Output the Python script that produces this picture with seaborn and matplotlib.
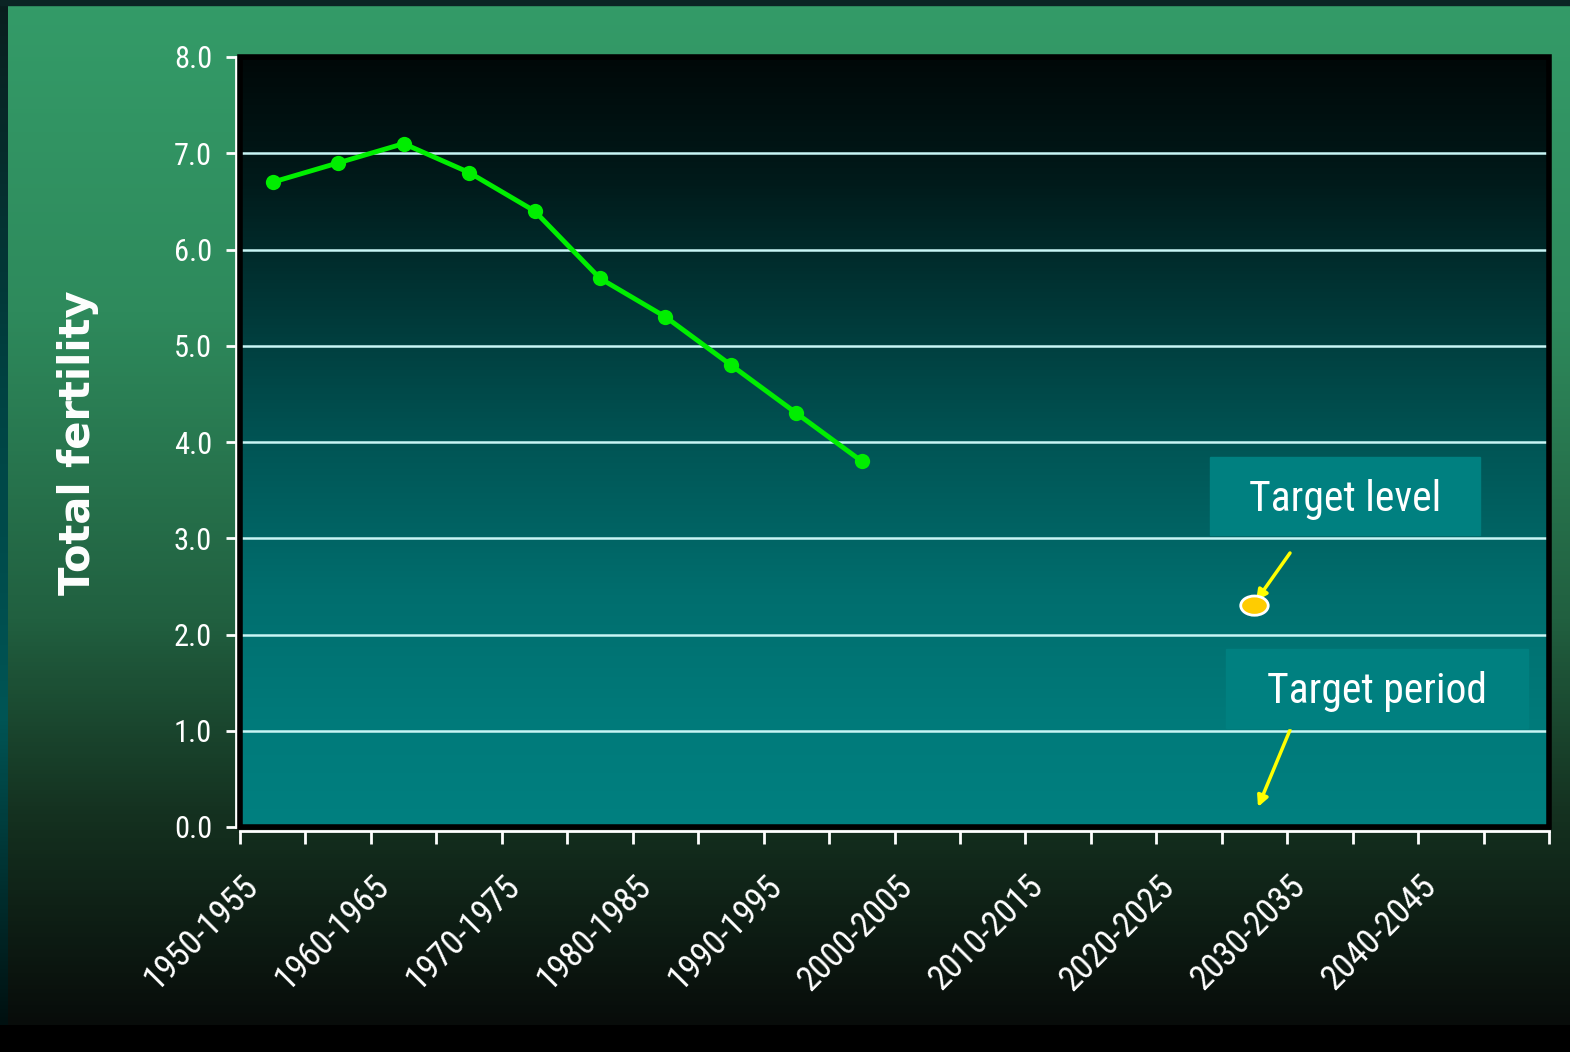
import numpy as np
import pandas as pd
import seaborn as sns
import matplotlib.pyplot as plt
from matplotlib import font_manager
from matplotlib.colors import LinearSegmentedColormap
from matplotlib.patches import Rectangle, Ellipse
from matplotlib.transforms import ScaledTranslation

# data
periods = ["1950-1955", "1955-1960", "1960-1965", "1965-1970", "1970-1975",
           "1975-1980", "1980-1985", "1985-1990", "1990-1995", "1995-2000",
           "2000-2005", "2005-2010", "2010-2015", "2015-2020", "2020-2025",
           "2025-2030", "2030-2035", "2035-2040", "2040-2045", "2045-2050"]
fertility = [6.7, 6.9, 7.1, 6.8, 6.4, 5.7, 5.3, 4.8, 4.3, 3.8]
target_period = "2025-2030"
target_level = 2.3
y_ticks = [0, 1, 2, 3, 4, 5, 6, 7, 8]

df = pd.DataFrame({"period": periods[:len(fertility)], "fertility": fertility})
df["pos"] = [periods.index(p) for p in df["period"]]

# pick a narrow font if one is installed
installed = {f.name for f in font_manager.fontManager.ttflist}
narrow_font = dict(family="DejaVu Sans", stretch="condensed")
for name in ["Liberation Sans Narrow", "Roboto Condensed", "Open Sans Condensed"]:
    if name in installed:
        narrow_font = dict(family=name)
        break

W, H = 1570, 1052
fig = plt.figure(figsize=(W / 100, H / 100), dpi=100, facecolor="black")

# figure background
bg = fig.add_axes([0, 0, 1, 1], zorder=-10)
bg.set_xlim(0, W)
bg.set_ylim(H, 0)
bg.axis("off")
grad = np.linspace(0, 1, 256).reshape(-1, 1)
panel_cmap = LinearSegmentedColormap.from_list(
    "panel", [(0, "#349b68"), (0.3, "#2e8a5c"), (0.6, "#216040"),
              (0.8, "#14301f"), (1, "#080c0a")])
bg.imshow(grad, cmap=panel_cmap, extent=[8, W, 1025, 5], aspect="auto")
strip_cmap = LinearSegmentedColormap.from_list(
    "strip", [(0, "#0a1e1e"), (0.4, "#004444"), (0.7, "#005555"), (1, "#001010")])
bg.imshow(grad, cmap=strip_cmap, extent=[0, 8, 1025, 0], aspect="auto")
bg.add_patch(Rectangle((0, 0), W, 5, color="#0b2424"))

# plot area
L, R, T, B = 240, 1549, 57, 827
ax = fig.add_axes([L / W, 1 - B / H, (R - L) / W, (B - T) / H])
ax_cmap = LinearSegmentedColormap.from_list(
    "axbg", [(0, "#000808"), (0.16, "#001a1a"), (0.31, "#003535"),
             (0.51, "#005656"), (0.70, "#006e6e"), (0.86, "#007a7a"), (1, "#008080")])
ax.imshow(grad, cmap=ax_cmap, extent=[-0.5, 19.5, 0, 8], aspect="auto", zorder=0)

sns.lineplot(data=df, x="pos", y="fertility", ax=ax, color="#00ee00", lw=3.5,
             marker="o", markersize=11, markeredgewidth=0, zorder=4)

ax.add_patch(Ellipse((periods.index(target_period), target_level), 0.42, 0.2,
                     fc="#ffcc00", ec="white", lw=2, zorder=5))

ax.set_xlim(-0.5, 19.5)
ax.set_ylim(0, 8)
ax.set_xlabel("")
ax.set_ylabel("")

# spines first: set_position resets the ticks
for s in ["top", "right"]:
    ax.spines[s].set_visible(False)
for s in ["left", "bottom"]:
    ax.spines[s].set_color("white")
    ax.spines[s].set_linewidth(2)
    ax.spines[s].set_position(("outward", 3))
ax.add_patch(Rectangle((0, 0), 1, 1, transform=ax.transAxes, fill=False,
                       ec="black", lw=4, clip_on=False, zorder=6))

ax.yaxis.grid(True, color="#c8f5f5", lw=1.8, zorder=1)
ax.set_axisbelow(False)

ax.tick_params(axis="x", which="minor", length=0, pad=36)
ax.tick_params(axis="x", which="major", length=9, width=2, color="white")
ax.tick_params(axis="y", length=7, width=2, color="white", pad=10)

ax.set_xticks(np.arange(-0.5, 20, 1))
ax.set_xticklabels([])
ax.set_xticks(np.arange(0, 20, 2), minor=True)
ax.set_xticklabels(periods[::2], minor=True, rotation=45, ha="right", va="center",
                   rotation_mode="anchor", color="white", fontsize=25, **narrow_font)
shift = ScaledTranslation(-0.2, 0, fig.dpi_scale_trans)
for lab in ax.get_xticklabels(minor=True):
    lab.set_transform(lab.get_transform() + shift)
ax.set_yticks(y_ticks)
ax.set_yticklabels([f"{v:.1f}" for v in y_ticks], color="white", fontsize=22,
                   **narrow_font)

fig.text(78 / W, 1 - 443 / H, "Total fertility", rotation=90, ha="center",
         va="center", color="white", fontsize=30, fontweight="bold")

# annotation boxes
for (x0, y0, x1, y1), label, tx in [((1210, 457, 1480, 535), "Target level", 1345),
                                   ((1226, 649, 1528, 728), "Target period", 1377)]:
    fig.patches.append(Rectangle((x0 / W, 1 - y1 / H), (x1 - x0) / W, (y1 - y0) / H,
                                 transform=fig.transFigure, color="#008080", zorder=3))
    fig.text(tx / W, 1 - (y0 + y1 + 6) / 2 / H, label, ha="center", va="center",
             color="white", fontsize=30, zorder=4, **narrow_font)

for start, end in [((1290, 553), (1256, 601)), ((1290, 730), (1258, 807))]:
    ax.annotate("", xy=(end[0], H - end[1]), xycoords="figure pixels",
                xytext=(start[0], H - start[1]), textcoords="figure pixels",
                arrowprops=dict(arrowstyle="-|>", color="#ffff00", lw=2.5,
                                mutation_scale=16, shrinkA=0, shrinkB=0))

fig.savefig("out.png", dpi=100, facecolor=fig.get_facecolor())
